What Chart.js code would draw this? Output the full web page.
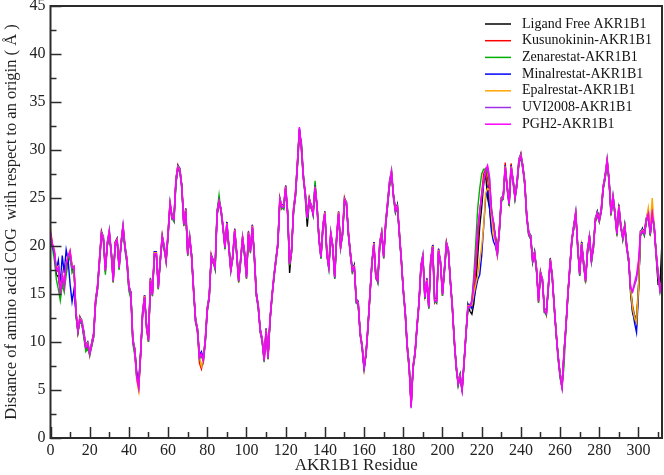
<!DOCTYPE html>
<html lang="en">
<head>
<meta charset="UTF-8">
<title>AKR1B1 residue COG distance</title>
<script src="https://cdn.jsdelivr.net/npm/chart.js"></script>
<style>
  body { margin: 0; background: #fff; }
  canvas { display: block; }
</style>
</head>
<body>
<canvas id="cogChart" width="664" height="475"></canvas>
<script>
// residue numbers 0..312 (x axis categories)
const residues = Array.from({ length: 313 }, (_, i) => i);

const seriesNames = ['Ligand Free AKR1B1', 'Kusunokinin-AKR1B1', 'Zenarestat-AKR1B1',
  'Minalrestat-AKR1B1', 'Epalrestat-AKR1B1', 'UVI2008-AKR1B1', 'PGH2-AKR1B1'];

const xMax = 312, xStep = 20;
const yMax = 45, yStep = 5;

// values, one row per 20 residues
const ligandFree = [
  21.2,20.0,19.2,17.0,16.8,15.2,16.5,16.0,17.5,18.5,19.0,17.5,17.5,12.8,11.0,12.2,12.0,10.6,9.3,9.6,
  8.9,9.6,10.5,14.0,15.5,18.3,21.0,20.6,17.8,20.0,21.2,19.5,16.8,20.0,20.4,18.0,20.0,21.7,20.0,18.2,
  15.5,15.2,10.0,9.3,6.8,5.6,9.0,12.8,14.5,11.8,10.5,16.2,15.2,19.0,19.0,16.0,18.3,20.6,19.7,18.7,
  21.0,24.2,23.2,22.6,26.5,28.0,28.0,26.3,22.5,23.4,19.5,20.6,19.1,15.6,12.1,11.4,8.6,8.6,8.3,10.0,
  13.2,14.9,18.7,18.6,17.6,23.2,24.4,23.9,21.8,20.1,22.0,20.1,17.7,18.7,21.4,19.4,16.6,18.3,20.6,19.4,
  17.0,21.0,19.7,21.8,19.1,15.2,13.5,11.4,10.0,8.3,11.0,8.6,12.1,14.9,16.6,18.7,20.0,24.5,24.3,23.9,
  25.8,23.6,17.2,19.7,23.5,25.2,28.3,31.6,30.8,27.5,25.0,22.0,24.5,24.3,23.2,25.8,24.3,20.8,18.7,21.8,
  23.2,19.4,17.6,21.1,20.1,16.6,20.7,23.2,20.1,21.1,24.6,24.6,21.1,19.4,17.3,18.0,14.1,14.2,10.7,9.7,
  7.6,8.6,11.8,14.8,18.4,20.0,17.0,16.2,20.0,21.1,19.1,22.1,24.2,26.3,27.4,25.3,23.5,24.3,21.1,18.7,
  15.2,13.2,9.7,7.6,3.6,7.2,9.0,11.4,14.2,17.6,19.1,14.5,16.6,13.5,18.3,20.1,14.5,14.1,19.3,18.4,
  15.2,17.3,20.0,19.7,16.2,13.9,10.0,7.6,5.5,6.6,4.8,8.0,10.7,13.9,13.2,12.9,14.0,16.0,19.0,22.0,
  24.0,26.5,27.5,25.0,24.0,22.0,22.5,21.0,19.5,21.4,24.6,25.3,27.8,26.3,24.2,27.9,27.0,24.9,26.3,28.6,
  29.2,28.4,26.3,23.2,21.1,21.1,18.3,19.4,17.3,14.5,16.9,16.6,13.1,13.2,15.5,18.7,16.6,13.9,10.7,8.6,
  6.4,5.5,8.6,11.8,14.8,18.0,20.4,22.2,23.2,20.1,16.9,20.4,18.0,16.6,19.3,21.1,18.3,20.1,22.5,23.6,
  22.9,23.5,25.9,27.4,28.6,27.0,23.2,25.3,23.2,21.5,23.9,22.2,20.7,22.2,20.1,18.3,15.0,13.0,12.5,11.8,
  15.5,21.0,21.8,21.1,22.5,23.6,21.1,23.2,22.2,19.0,16.0,16.0,20.5
];
const kusunokinin = [
  21.0,20.1,19.3,17.3,17.5,15.5,16.9,15.9,18.0,19.1,19.3,18.0,17.6,13.2,11.0,12.6,11.9,11.1,9.3,9.9,
  8.6,9.9,10.9,14.4,15.9,18.7,21.5,20.6,17.3,20.4,21.3,19.4,16.2,20.4,20.8,17.6,20.4,22.2,19.7,18.7,
  15.9,14.8,10.4,8.9,6.2,5.1,8.6,13.2,14.9,11.4,10.0,16.6,14.8,19.4,19.4,15.5,18.7,21.1,19.7,18.3,
  21.5,24.6,22.8,23.0,27.0,28.4,27.7,26.3,22.1,23.9,19.0,21.1,18.7,15.2,12.5,11.0,7.8,7.2,8.3,10.4,
  13.6,14.5,19.1,18.2,18.0,23.6,24.8,23.5,22.2,19.7,22.5,19.7,17.3,19.1,21.8,19.0,16.2,18.7,21.0,19.0,
  16.6,21.5,19.3,22.2,18.7,14.8,13.9,11.0,10.4,8.0,11.4,8.2,12.5,14.5,17.0,18.3,20.4,25.0,23.9,24.3,
  26.3,23.2,18.0,19.3,23.9,25.6,28.8,32.1,30.1,27.0,25.6,23.2,25.0,23.9,23.6,26.3,23.9,20.8,19.1,22.2,
  23.6,19.0,18.0,21.5,19.7,17.0,21.1,23.6,19.7,21.5,25.0,24.2,21.5,19.0,17.7,17.6,14.5,13.8,11.1,9.3,
  7.2,9.0,11.4,15.2,18.0,20.4,16.6,16.6,20.4,21.5,18.7,22.5,24.6,26.7,27.5,25.3,23.9,23.9,21.5,18.3,
  15.6,12.8,9.3,7.2,3.4,7.6,8.6,11.8,13.8,18.0,18.7,14.9,16.2,13.9,18.7,19.7,14.1,14.5,19.7,18.0,
  14.8,17.7,20.4,19.3,16.6,13.5,10.4,7.2,5.9,6.2,5.2,7.6,11.1,13.5,13.9,14.0,15.5,17.5,20.5,23.5,
  25.5,27.5,28.0,27.0,25.0,23.0,22.0,21.0,19.5,21.8,25.0,24.9,28.7,25.9,24.6,28.6,26.6,25.3,26.7,28.7,
  29.6,28.0,26.7,22.8,21.5,20.7,18.7,19.0,17.7,14.1,17.3,16.2,13.5,12.8,15.9,18.3,17.0,13.5,11.1,8.2,
  6.8,5.1,9.0,11.4,15.2,17.6,20.8,21.8,23.6,19.7,17.3,20.0,18.4,16.2,19.7,20.7,18.7,19.7,22.9,23.2,
  22.5,23.9,26.3,27.0,29.1,26.6,23.6,24.9,23.6,21.1,24.3,21.8,21.1,21.8,19.7,18.7,15.5,13.8,12.8,12.5,
  15.8,21.5,21.4,21.5,22.9,23.2,21.5,23.6,21.8,19.4,16.9,15.6,16.2
];
const zenarestat = [
  21.0,19.8,18.5,16.5,15.5,14.3,16.0,15.2,17.0,18.2,19.0,17.2,17.6,12.8,11.0,12.2,11.8,10.5,9.0,9.3,
  8.6,9.5,10.5,14.0,15.5,18.2,21.1,20.5,17.0,20.0,21.2,19.0,16.2,20.0,20.5,17.5,20.0,21.8,19.5,18.2,
  15.3,14.5,9.8,8.6,6.5,5.5,8.6,12.8,14.5,11.4,10.0,16.2,14.8,19.0,19.0,15.5,18.3,20.7,19.6,18.3,
  21.1,24.2,22.8,22.6,26.6,28.0,27.7,25.9,22.1,23.5,19.0,20.7,18.7,15.2,12.1,11.0,8.2,8.6,7.9,10.0,
  13.2,14.5,18.7,18.2,17.6,23.6,25.3,23.5,21.8,19.7,22.1,19.7,17.3,18.7,21.4,19.0,16.2,18.3,20.6,19.0,
  16.6,21.1,19.3,21.8,18.7,14.8,13.5,11.0,10.0,7.9,11.0,8.2,12.1,14.5,16.6,18.3,20.0,24.6,23.9,23.9,
  25.9,23.2,18.0,19.3,23.5,25.2,28.4,31.9,30.1,27.0,25.2,22.8,24.6,23.9,23.6,26.8,23.9,20.4,18.7,21.8,
  23.2,19.0,17.6,21.1,19.7,16.6,20.7,23.2,19.7,21.1,24.6,24.2,21.1,19.0,17.3,17.6,14.1,13.8,10.7,9.3,
  7.2,8.6,11.4,14.8,18.0,20.0,16.6,16.2,20.0,21.1,18.7,22.1,24.2,26.3,27.5,24.9,23.5,23.9,21.1,18.3,
  15.2,12.8,9.3,7.2,3.4,7.2,8.6,11.4,13.8,17.6,18.7,14.5,16.2,13.5,18.3,19.7,14.1,14.1,19.3,18.0,
  14.8,17.3,20.0,19.3,16.2,13.5,10.0,7.2,5.5,6.2,5.0,7.6,10.7,13.5,13.5,14.5,17.0,20.5,24.0,26.0,
  27.5,28.0,28.0,27.8,26.5,24.0,22.0,21.0,19.0,21.4,24.6,24.9,28.0,25.9,24.2,28.0,26.6,24.9,26.3,28.7,
  29.2,28.0,26.3,22.8,21.1,20.7,18.3,19.0,17.3,14.1,16.9,16.2,13.1,12.8,15.5,18.3,16.6,13.5,10.7,8.2,
  6.2,5.2,7.5,11.4,14.8,17.6,20.4,21.8,23.2,19.7,16.9,20.0,18.0,16.2,19.3,20.7,18.3,19.7,22.5,23.2,
  22.5,23.5,25.9,27.0,28.7,26.6,23.2,24.9,23.2,21.1,23.9,21.8,20.7,21.8,19.7,18.3,15.5,13.5,12.7,12.0,
  15.5,21.1,21.4,21.1,22.5,23.2,21.1,23.2,21.8,19.0,16.9,15.2,16.2
];
const minalrestat = [
  21.3,20.0,19.2,17.5,18.5,16.0,19.0,17.2,19.6,18.5,16.0,14.2,15.5,13.0,11.4,12.6,12.3,11.1,9.7,10.0,
  9.0,9.9,10.9,14.4,15.9,18.7,21.5,21.0,17.7,20.4,21.7,19.4,16.6,20.4,20.8,18.0,20.4,22.2,20.1,18.7,
  15.9,15.2,10.4,9.3,6.6,5.5,9.0,13.2,14.9,11.8,10.4,16.6,15.2,19.4,19.4,15.9,18.7,21.1,20.1,18.7,
  21.5,24.6,23.2,23.0,27.0,28.4,28.1,26.3,22.5,23.9,19.4,21.1,19.1,15.6,12.5,11.4,8.6,9.0,8.3,10.4,
  13.6,14.9,19.1,18.6,18.0,23.6,24.8,23.9,22.2,20.1,22.5,20.1,17.7,19.1,21.8,19.4,16.6,18.7,21.0,19.4,
  17.0,21.5,19.7,22.2,19.1,15.2,13.9,11.4,10.4,8.3,11.4,8.6,12.5,14.9,17.0,18.7,20.4,25.0,24.3,24.3,
  26.3,23.6,18.4,19.7,23.9,25.6,28.8,32.2,30.5,27.4,25.6,23.2,25.0,24.3,23.6,26.3,24.3,20.8,19.1,22.2,
  23.6,19.4,18.0,21.5,20.1,17.0,21.1,23.6,20.1,21.5,25.0,24.6,21.5,19.4,17.7,18.0,14.5,14.2,11.1,9.7,
  7.0,9.0,11.8,15.2,18.4,20.4,17.0,16.6,20.4,21.5,19.1,22.5,24.6,26.8,27.9,25.3,23.9,24.3,21.5,18.7,
  15.6,13.2,9.7,7.6,3.4,7.6,9.0,11.8,14.2,18.0,19.1,14.9,16.6,13.9,18.7,20.1,14.5,14.5,19.7,18.4,
  15.2,17.7,20.4,19.7,16.6,13.9,10.4,7.6,5.9,6.6,5.2,8.0,11.1,13.9,13.9,13.5,14.5,15.5,16.5,17.0,
  19.0,22.0,25.0,26.0,24.0,21.5,20.5,20.0,19.0,21.8,25.0,25.3,28.4,26.3,24.6,28.4,27.0,25.3,26.7,29.1,
  29.6,28.4,26.7,23.2,21.5,21.1,18.7,19.4,17.7,14.5,17.3,16.6,13.5,13.2,15.9,18.7,17.0,13.9,11.1,8.6,
  6.8,5.5,9.0,11.8,15.2,18.0,20.8,22.2,23.6,20.1,17.3,20.4,18.4,16.6,19.7,21.1,18.7,20.1,22.9,23.6,
  22.9,23.9,26.3,27.4,29.1,27.0,23.6,25.3,23.6,21.5,24.3,22.2,21.1,22.2,20.1,18.7,15.4,13.2,12.0,11.0,
  15.0,21.5,21.8,21.5,22.9,23.6,21.5,23.6,22.2,19.4,17.3,15.6,16.6
];
const epalrestat = [
  21.8,20.3,19.6,17.7,17.9,15.2,17.2,15.9,18.3,19.0,19.6,17.9,17.9,13.2,11.3,12.5,12.2,11.0,9.6,9.9,
  8.9,9.8,10.8,14.3,15.8,18.6,21.4,20.9,17.6,20.3,21.6,19.3,16.5,20.3,20.7,17.9,20.3,22.1,20.0,18.6,
  15.8,15.1,10.3,9.2,6.0,4.9,8.9,13.1,14.8,11.7,10.3,16.5,15.1,19.3,19.3,15.8,18.6,21.0,20.0,18.6,
  21.4,24.5,23.1,22.9,26.9,28.3,28.0,26.2,22.4,23.8,19.3,21.0,19.0,15.5,12.4,11.3,8.5,7.5,8.2,10.3,
  13.5,14.8,19.0,18.5,17.9,23.5,24.7,23.8,22.1,20.0,22.4,20.0,17.6,19.0,21.7,19.3,16.5,18.6,20.9,19.3,
  16.9,21.4,19.6,22.1,19.0,15.1,13.8,11.3,10.3,8.2,11.3,8.5,12.4,14.8,16.9,18.6,20.3,24.9,24.2,24.2,
  26.2,23.5,18.3,19.6,23.8,25.5,28.7,32.0,30.4,27.3,25.5,23.1,24.9,24.2,23.5,26.2,24.2,20.7,19.0,22.1,
  23.5,19.3,17.9,21.4,20.0,16.9,21.0,23.5,20.0,21.4,24.9,24.5,21.4,19.3,17.6,17.9,14.4,14.1,11.0,9.6,
  7.5,8.9,11.7,15.1,18.3,20.3,16.9,16.5,20.3,21.4,19.0,22.4,24.5,26.6,27.8,25.2,23.8,24.2,21.4,18.6,
  15.5,13.1,9.6,7.5,3.3,7.5,8.9,11.7,14.1,17.9,19.0,14.8,16.5,13.8,18.6,20.0,14.4,14.4,19.6,18.3,
  15.1,17.6,20.3,19.6,16.5,13.8,10.3,7.5,5.8,6.5,5.1,7.9,11.0,13.8,13.8,13.8,15.0,16.0,17.0,18.5,
  20.0,22.0,25.5,26.0,25.8,23.0,21.0,20.5,19.0,21.7,24.9,25.2,28.3,26.2,24.5,28.3,26.9,25.2,26.6,29.0,
  29.5,28.3,26.6,23.1,21.4,21.0,18.6,19.3,17.6,14.4,17.2,16.5,13.4,13.1,15.8,18.6,16.9,13.8,11.0,8.5,
  6.7,5.4,8.9,11.7,15.1,17.9,20.7,22.1,23.5,20.0,17.2,20.3,18.3,16.5,19.6,21.0,18.6,20.0,22.8,23.5,
  22.8,23.8,26.2,27.3,29.0,26.9,23.5,25.2,23.5,21.4,24.2,22.1,21.0,22.1,20.0,18.6,15.5,13.5,12.5,12.0,
  15.5,21.4,21.7,21.4,22.8,24.0,22.0,25.0,22.1,19.3,17.2,15.5,16.5
];
const uvi2008 = [
  21.4,20.1,19.4,17.4,17.7,15.1,17.0,15.8,18.1,18.8,19.4,17.7,17.9,13.1,11.1,12.3,12.0,10.8,9.4,9.7,
  8.7,9.6,10.6,14.1,15.6,18.4,21.2,20.7,17.4,20.1,21.4,19.1,16.3,20.1,20.5,17.7,20.1,21.9,19.8,18.4,
  15.6,14.9,10.1,9.0,6.3,5.2,8.7,12.9,14.6,11.5,10.1,16.3,14.9,19.1,19.1,15.6,18.4,20.8,19.8,18.4,
  21.2,24.3,22.9,22.7,26.7,28.1,27.8,26.0,22.2,23.6,19.1,20.8,18.8,15.3,12.2,11.1,8.3,8.7,8.0,10.1,
  13.3,14.6,18.8,18.3,17.7,23.3,24.5,23.6,21.9,19.8,22.2,19.8,17.4,18.8,21.5,19.1,16.3,18.4,20.7,19.1,
  16.7,21.2,19.4,21.9,18.8,14.9,13.6,11.1,10.1,8.0,11.1,8.3,12.2,14.6,16.7,18.4,20.1,24.7,24.0,24.0,
  26.0,23.3,18.1,19.4,23.6,25.3,28.5,32.3,30.2,27.1,25.3,22.9,24.7,24.0,23.3,26.0,24.0,20.5,18.8,21.9,
  23.3,19.1,17.7,21.2,19.8,16.7,20.8,23.3,19.8,21.2,24.7,24.3,21.2,19.1,17.4,17.7,14.2,13.9,10.8,9.4,
  7.3,8.7,11.5,14.9,18.1,20.1,16.7,16.3,20.1,21.2,18.8,22.2,24.3,26.4,27.6,25.0,23.6,24.0,21.2,18.4,
  15.3,12.9,9.4,7.3,3.1,7.3,8.7,11.5,13.9,17.7,18.8,14.6,16.3,13.6,18.4,19.8,14.2,14.2,19.4,18.1,
  14.9,17.4,20.1,19.4,16.3,13.6,10.1,7.3,5.6,6.3,4.9,7.7,10.8,13.6,13.6,14.2,16.2,18.5,21.5,23.5,
  25.0,26.5,27.6,28.2,27.0,23.8,22.5,20.8,19.2,21.5,24.7,25.0,28.1,26.0,24.3,28.1,26.7,25.0,26.4,28.8,
  29.3,28.1,26.4,22.9,21.2,20.8,18.4,19.1,17.4,14.2,17.0,16.3,13.2,12.9,15.6,18.4,16.7,13.6,10.8,8.3,
  6.5,5.2,8.7,11.5,14.9,17.7,20.5,21.9,23.3,19.8,17.0,20.1,18.1,16.3,19.4,20.8,18.4,19.8,22.6,23.3,
  22.6,23.6,26.0,27.1,28.8,26.7,23.3,25.0,23.3,21.2,24.0,21.9,20.8,21.9,19.8,18.4,15.6,15.2,15.9,16.5,
  18.0,21.2,21.5,21.2,22.6,23.3,21.2,23.3,21.9,19.1,17.0,15.3,16.3
];
const pgh2 = [
  21.5,20.2,19.5,17.5,17.8,15.0,17.1,15.7,18.2,18.9,19.5,17.8,17.8,13.0,11.2,12.4,12.1,10.9,9.5,9.8,
  8.8,9.7,10.7,14.2,15.7,18.5,21.3,20.8,17.5,20.2,21.5,19.2,16.4,20.2,20.6,17.8,20.2,22.0,19.9,18.5,
  15.7,15.0,10.2,9.1,6.4,5.3,8.8,13.0,14.7,11.6,10.2,16.4,15.0,19.2,19.2,15.7,18.5,20.9,19.9,18.5,
  21.3,24.4,23.0,22.8,26.8,28.2,27.9,26.1,22.3,23.7,19.2,20.9,18.9,15.4,12.3,11.2,8.4,8.8,8.1,10.2,
  13.4,14.7,18.9,18.4,17.8,23.4,24.6,23.7,22.0,19.9,22.3,19.9,17.5,18.9,21.6,19.2,16.4,18.5,20.8,19.2,
  16.8,21.3,19.5,22.0,18.9,15.0,13.7,11.2,10.2,8.1,11.2,8.4,12.3,14.7,16.8,18.5,20.2,24.8,24.1,24.1,
  26.1,23.4,18.2,19.5,23.7,25.4,28.6,32.4,30.3,27.2,25.4,23.0,24.8,24.1,23.4,26.1,24.1,20.6,18.9,22.0,
  23.4,19.2,17.8,21.3,19.9,16.8,20.9,23.4,19.9,21.3,24.8,24.4,21.3,19.2,17.5,17.8,14.3,14.0,10.9,9.5,
  7.4,8.8,11.6,15.0,18.2,20.2,16.8,16.4,20.2,21.3,18.9,22.3,24.4,26.5,27.7,25.1,23.7,24.1,21.3,18.5,
  15.4,13.0,9.5,7.4,3.2,7.4,8.8,11.6,14.0,17.8,18.9,14.7,16.4,13.7,18.5,19.9,14.3,14.3,19.5,18.2,
  15.0,17.5,20.2,19.5,16.4,13.7,10.2,7.4,5.7,6.4,5.0,7.8,10.9,13.7,13.7,14.3,16.4,18.9,22.0,23.7,
  25.4,26.8,27.9,28.4,27.2,23.7,22.5,20.7,19.2,21.6,24.8,25.1,28.2,26.1,24.4,28.2,26.8,25.1,26.5,28.9,
  29.4,28.2,26.5,23.0,21.3,20.9,18.5,19.2,17.5,14.3,17.1,16.4,13.3,13.0,15.7,18.5,16.8,13.7,10.9,8.4,
  6.6,5.3,8.8,11.6,15.0,17.8,20.6,22.0,23.4,19.9,17.1,20.2,18.2,16.4,19.5,20.9,18.5,19.9,22.7,23.4,
  22.7,23.7,26.1,27.2,28.9,26.8,23.4,25.1,23.4,21.3,24.1,22.0,20.9,22.0,19.9,18.5,15.7,15.3,16.2,17.0,
  18.5,21.3,21.6,21.3,22.7,23.4,21.3,23.4,22.0,19.2,17.1,15.4,16.4
];

const allSeries = [ligandFree, kusunokinin, zenarestat, minalrestat, epalrestat, uvi2008, pgh2];
const lineColors = ['#000000', '#ff0000', '#00b000', '#0000ff', '#ffa500', '#a030e8', '#ff00ff'];

const serif = 'Liberation Serif';

// frame, inward ticks and the legend drawn inside the plot
const frameAndLegend = {
    id: 'frameAndLegend',
    afterDraw(chart) {
        const ctx = chart.ctx;
        const a = chart.chartArea;
        const xs = chart.scales.x, ys = chart.scales.y;
        ctx.save();
        ctx.strokeStyle = '#2b2b2b';
        ctx.lineWidth = 1.5;
        for (let v = 0; v <= xMax; v += xStep / 2) {
            const px = Math.round(xs.getPixelForValue(v)) + 0.5;
            const len = v % xStep === 0 ? 11 : 6;
            ctx.beginPath();
            ctx.moveTo(px, a.bottom);
            ctx.lineTo(px, a.bottom - len);
            ctx.stroke();
        }
        for (let v = 0; v <= yMax; v += yStep / 2) {
            const py = Math.round(ys.getPixelForValue(v)) + 0.5;
            const len = v % yStep === 0 ? 11 : 6;
            ctx.beginPath();
            ctx.moveTo(a.left, py);
            ctx.lineTo(a.left + len, py);
            ctx.stroke();
        }
        ctx.lineWidth = 2;
        ctx.strokeRect(a.left, a.top, a.right - a.left, a.bottom - a.top);

        // legend
        ctx.font = '14px "' + serif + '"';
        ctx.textBaseline = 'middle';
        ctx.textAlign = 'left';
        chart.data.datasets.forEach((ds, i) => {
            const yy = 24 + i * 16.7;
            ctx.strokeStyle = ds.borderColor;
            ctx.lineWidth = 1.5;
            ctx.beginPath();
            ctx.moveTo(485, yy);
            ctx.lineTo(511, yy);
            ctx.stroke();
            ctx.fillStyle = '#111';
            ctx.fillText(ds.label, 522, yy);
        });
        ctx.restore();
    }
};

new Chart(document.getElementById('cogChart'), {
    type: 'line',
    data: {
        datasets: allSeries.map((vals, i) => ({
            label: seriesNames[i],
            data: vals.map((v, j) => ({ x: residues[j], y: v })),
            borderColor: lineColors[i],
            backgroundColor: lineColors[i],
            borderWidth: 1.4,
            pointRadius: 0,
            tension: 0,
            fill: false,
            order: allSeries.length - 1 - i
        }))
    },
    options: {
        responsive: false,
        animation: false,
        layout: { padding: { top: 6, right: 2, left: 0, bottom: 0 } },
        plugins: {
            legend: { display: false },
            tooltip: { enabled: false }
        },
        scales: {
            x: {
                type: 'linear',
                min: 0,
                max: xMax,
                grid: { display: false, drawTicks: false },
                border: { display: false },
                ticks: {
                    stepSize: xStep,
                    includeBounds: false,
                    maxRotation: 0,
                    padding: 5,
                    color: '#222',
                    font: { family: serif, size: 16, lineHeight: 1 }
                },
                title: {
                    display: true,
                    text: 'AKR1B1 Residue',
                    color: '#222',
                    padding: { top: 0, bottom: 2 },
                    font: { family: serif, size: 17, lineHeight: 0.82 }
                },
                afterFit(scale) {
                    scale.paddingLeft = 0;
                    scale.paddingRight = 0;
                    scale.height = 37;
                }
            },
            y: {
                min: 0,
                max: yMax,
                grid: { display: false, drawTicks: false },
                border: { display: false },
                ticks: {
                    stepSize: yStep,
                    padding: 5,
                    color: '#222',
                    font: { family: serif, size: 16, lineHeight: 1 }
                },
                title: {
                    display: true,
                    text: 'Distance of amino acid COG  with respect to an origin ( Å )',
                    color: '#222',
                    padding: { top: 3, bottom: 5 },
                    font: { family: serif, size: 16.5, lineHeight: 1 }
                },
                afterFit(scale) {
                    scale.paddingTop = 0;
                    scale.paddingBottom = 0;
                }
            }
        }
    },
    plugins: [frameAndLegend]
});
</script>
</body>
</html>
